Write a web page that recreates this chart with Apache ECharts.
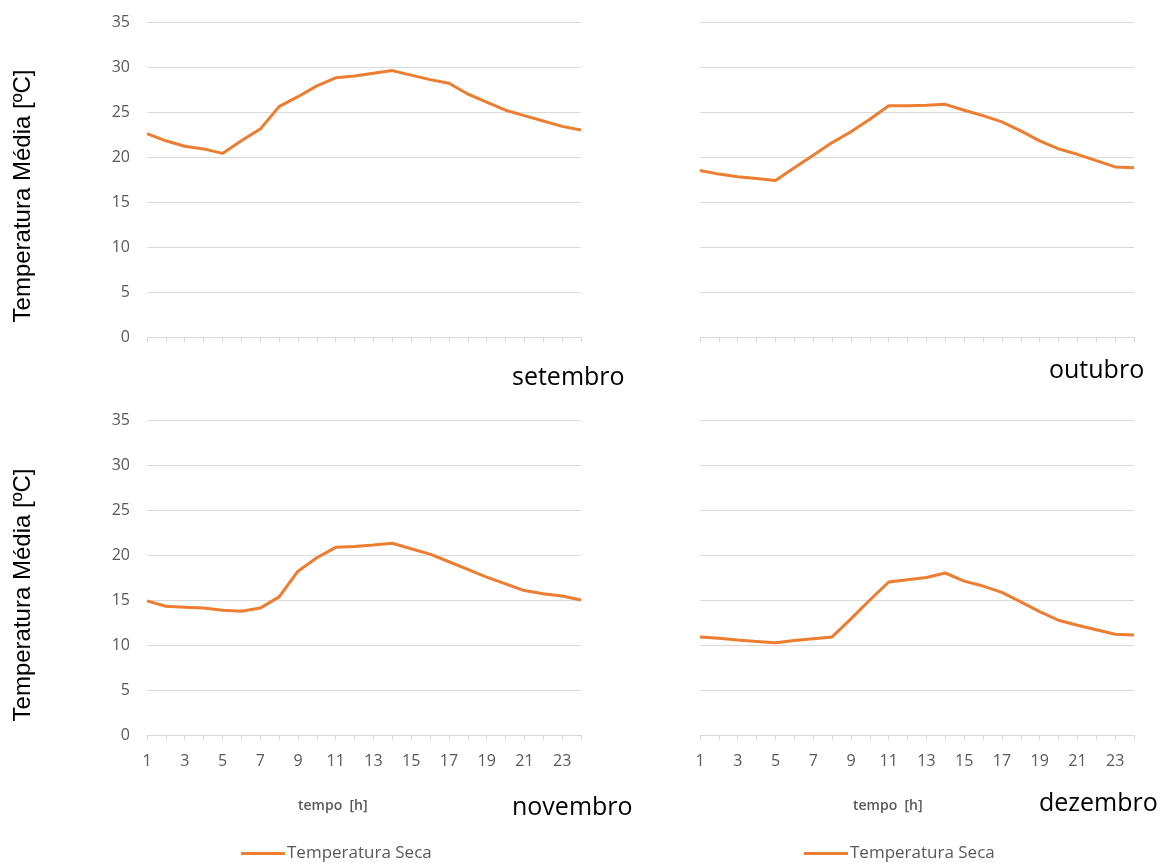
<!DOCTYPE html>
<html>
<head>
<meta charset="utf-8">
<script src="https://cdn.jsdelivr.net/npm/echarts@6/dist/echarts.min.js"></script>
<style>
  html, body {margin: 0; padding: 0; background: #fff;}
  #chart {width: 1164px; height: 863px;}
</style>
</head>
<body>
<div id="chart"></div>
<script>
const hours = [];
for (let h = 1; h <= 24; h++) {
  hours.push(String(h));
}

const seriesName = "Temperatura Seca";
const months = ["setembro", "outubro", "novembro", "dezembro"];

const setembro = [22.6, 21.8, 21.2, 20.9, 20.4, 21.8, 23.1, 25.6, 26.7, 27.9, 28.8, 29.0,
  29.3, 29.6, 29.1, 28.6, 28.2, 27.0, 26.1, 25.2, 24.6, 24.0, 23.4, 23.0];
const outubro = [18.5, 18.1, 17.8, 17.6, 17.4, 18.8, 20.2, 21.6, 22.8, 24.2, 25.7, 25.7,
  25.75, 25.85, 25.2, 24.6, 23.9, 22.9, 21.8, 20.9, 20.3, 19.6, 18.9, 18.8];
const novembro = [14.9, 14.3, 14.2, 14.1, 13.85, 13.75, 14.1, 15.35, 18.2, 19.7, 20.85, 20.95,
  21.1, 21.3, 20.7, 20.1, 19.25, 18.4, 17.55, 16.8, 16.05, 15.7, 15.45, 15.0];
const dezembro = [10.9, 10.75, 10.55, 10.4, 10.25, 10.5, 10.7, 10.9, 12.9, 15.0, 17.0, 17.25,
  17.5, 18.0, 17.1, 16.55, 15.85, 14.8, 13.7, 12.75, 12.2, 11.7, 11.2, 11.1];

const panelData = [setembro, outubro, novembro, dezembro];

const yTitle = "Temperatura Média [ºC]";
const xTitle = "tempo  [h]";

const gray = "#595959";
const lineGray = "#d9d9d9";
const orange = "#ED7D31";

// panel boxes: left, top
const boxes = [
  {left: 147, top: 22},
  {left: 700, top: 22},
  {left: 147, top: 420},
  {left: 700, top: 420},
];
const plotW = 434;
const plotH = 315;

const grids = [];
const xAxes = [];
const yAxes = [];
const series = [];

boxes.forEach((b, i) => {
  const isLeft = i % 2 === 0;
  const isBottom = i >= 2;
  grids.push({left: b.left, top: b.top, width: plotW, height: plotH});
  xAxes.push({
    type: "category",
    gridIndex: i,
    data: hours,
    boundaryGap: false,
    axisLine: {lineStyle: {color: lineGray, width: 1}},
    axisTick: {show: true, interval: 0, length: 5, lineStyle: {color: lineGray}},
    axisLabel: {
      show: isBottom,
      interval: 1,
      color: gray,
      fontSize: 16,
      fontFamily: "Open Sans",
      margin: 18,
    },
  });
  yAxes.push({
    type: "value",
    gridIndex: i,
    min: 0,
    max: 35,
    interval: 5,
    axisLine: {show: false},
    axisTick: {show: false},
    axisLabel: {show: isLeft, color: gray, fontSize: 16, fontFamily: "Open Sans", margin: 17},
    splitLine: {lineStyle: {color: lineGray, width: 1}},
  });
  series.push({
    name: seriesName,
    type: "line",
    xAxisIndex: i,
    yAxisIndex: i,
    data: panelData[i],
    symbol: "none",
    lineStyle: {color: orange, width: 3},
    itemStyle: {color: orange},
    animation: false,
  });
});

const monthPos = [
  {left: 512, top: 365},
  {left: 1049, top: 358},
  {left: 512, top: 795},
  {left: 1039, top: 791},
];

const titles = months.map((m, i) => ({
  text: m,
  left: monthPos[i].left,
  top: monthPos[i].top,
  padding: 0,
  textStyle: {color: "#000", fontSize: 25, fontWeight: "normal", fontFamily: "Open Sans"},
}));
[{left: 298, top: 799}, {left: 853, top: 799}].forEach((p) => {
  titles.push({
    text: xTitle,
    left: p.left,
    top: p.top,
    padding: 0,
    textStyle: {color: gray, fontSize: 14, fontWeight: 600, fontFamily: "Open Sans"},
  });
});

// rotated y titles, centred a bit below each plot's middle like the original
const yTitleCentres = [196, 595];
const graphics = yTitleCentres.map((cy) => ({
  type: "text",
  x: 23,
  y: cy,
  rotation: Math.PI / 2,
  style: {
    text: yTitle,
    fill: "#000",
    font: "24px 'Liberation Sans'",
    textAlign: "center",
    textVerticalAlign: "middle",
  },
}));

const legendStyle = {
  data: [seriesName],
  icon: "rect",
  itemWidth: 44,
  itemHeight: 3,
  itemGap: 0,
  padding: 0,
  textStyle: {color: gray, fontSize: 17, fontFamily: "Open Sans", padding: [0, 0, 0, -3]},
  selectedMode: false,
};

const option = {
  backgroundColor: "#fff",
  animation: false,
  title: titles,
  graphic: graphics,
  legend: [
    Object.assign({left: 241, top: 845}, legendStyle),
    Object.assign({left: 804, top: 845}, legendStyle),
  ],
  grid: grids,
  xAxis: xAxes,
  yAxis: yAxes,
  series: series,
};

const chart = echarts.init(document.getElementById("chart"));
chart.setOption(option);
</script>
</body>
</html>
